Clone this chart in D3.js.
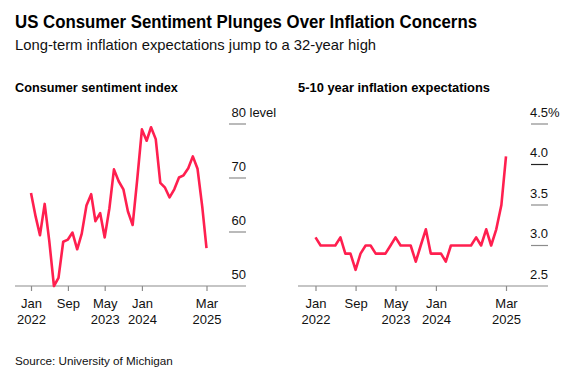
<!DOCTYPE html>
<html lang="en">
<head>
  <meta charset="UTF-8">
  <title>US Consumer Sentiment</title>
  <style>
    body { margin: 0; background: #fff; }
    svg { font-family: "Liberation Sans", Arial, sans-serif; }
    .line { fill: none; stroke: #ff1f4f; stroke-width: 2.6px; stroke-linejoin: round; }
    .grid { stroke: #8c8c8c; stroke-width: 1.2px; }
    .lbl { font-size: 13px; fill: #111; }
  </style>
  <script src="https://cdnjs.cloudflare.com/ajax/libs/d3/7.8.5/d3.min.js"></script>
</head>
<body>
  <div id="chart"></div>
  <script>
    // monthly data, Jan 2022 - Mar 2025
    var sentiment = [
      67.2, 62.8, 59.4, 65.2, 58.4, 50.0, 51.5, 58.2, 58.6, 59.9, 56.8, 59.7,
      64.9, 67.0, 62.0, 63.5, 59.0, 64.4, 71.6, 69.4, 67.9, 63.8, 61.3, 69.7,
      79.0, 76.9, 79.4, 77.2, 69.1, 68.2, 66.4, 67.9, 70.1, 70.5, 71.8, 74.0,
      71.7, 64.7, 57.0
    ];
    var expectations = [
      3.1, 3.0, 3.0, 3.0, 3.0, 3.1, 2.9, 2.9, 2.7, 2.9, 3.0, 3.0,
      2.9, 2.9, 2.9, 3.0, 3.1, 3.0, 3.0, 3.0, 2.8, 3.0, 3.2, 2.9,
      2.9, 2.9, 2.8, 3.0, 3.0, 3.0, 3.0, 3.0, 3.1, 3.0, 3.2, 3.0,
      3.2, 3.5, 4.1
    ];
    var xTicks = [new Date(2022, 0, 1), new Date(2022, 8, 1), new Date(2023, 4, 1),
                  new Date(2024, 0, 1), new Date(2025, 2, 1)];
    var xTickLabels = [["Jan", "2022"], ["Sep", ""], ["May", "2023"], ["Jan", "2024"], ["Mar", "2025"]];
    var sentTicks = [50, 60, 70, 80];
    var expTicks = [2.5, 3.0, 3.5, 4.0, 4.5];

    var months = d3.range(sentiment.length).map(function(i) { return new Date(2022, i, 1); });

    var svg = d3.select("#chart").append("svg")
        .attr("width", 566)
        .attr("height", 374);

    // titles
    svg.append("text").attr("x", 15).attr("y", 28)
        .style("font-size", "18px").style("font-weight", "bold").attr("fill", "#000")
        .attr("textLength", 462).attr("lengthAdjust", "spacingAndGlyphs")
        .text("US Consumer Sentiment Plunges Over Inflation Concerns");
    svg.append("text").attr("x", 15).attr("y", 50)
        .style("font-size", "14.8px").attr("fill", "#111")
        .text("Long-term inflation expectations jump to a 32-year high");
    svg.append("text").attr("x", 15).attr("y", 365)
        .style("font-size", "11.7px").attr("fill", "#111")
        .text("Source: University of Michigan");

    function panel(opt) {
      var g = svg.append("g");
      var x = d3.scaleTime().domain([months[0], months[months.length - 1]]).range(opt.xRange);
      var y = d3.scaleLinear().domain(opt.yDomain).range([286, 124]);

      g.append("text").attr("x", opt.left).attr("y", 92)
          .style("font-size", opt.titleSize).style("font-weight", "bold").attr("fill", "#000")
          .text(opt.title);

      // y gridlines (short, on the right) + labels
      var yt = g.selectAll(".yt").data(opt.yTicks).enter().append("g")
          .attr("transform", function(d) { return "translate(0," + y(d) + ")"; });
      yt.filter(function(d) { return d !== opt.yDomain[0]; }).append("line")
          .attr("class", "grid")
          .attr("x1", opt.right - 17).attr("x2", opt.right)
          .style("stroke", function(d) { return d === opt.dark ? "#222" : null; });
      yt.append("text").attr("class", "lbl")
          .attr("x", opt.right).attr("y", -7.5)
          .attr("text-anchor", "end")
          .text(opt.fmt);
      var top = opt.yTicks[opt.yTicks.length - 1];
      g.append("text").attr("class", "lbl")
          .attr("x", opt.right + (opt.unit === "%" ? 0 : 3.5)).attr("y", y(top) - 7.5)
          .text(opt.unit);

      // baseline + x axis
      g.append("line").attr("class", "grid")
          .attr("x1", opt.left).attr("x2", opt.right)
          .attr("y1", 286).attr("y2", 286);
      var ax = g.append("g").attr("transform", "translate(0,286)")
          .call(d3.axisBottom(x).tickValues(xTicks).tickSize(5).tickFormat(""));
      ax.select(".domain").remove();
      ax.selectAll(".tick line").attr("stroke", "#8c8c8c").attr("stroke-width", 1.2);
      ax.selectAll(".tick").each(function(d, i) {
        var t = d3.select(this).append("text").attr("class", "lbl")
            .attr("text-anchor", "middle").attr("fill", "#111")
            .style("font-size", "13px");
        t.append("tspan").attr("x", 0).attr("y", 21.5).text(xTickLabels[i][0]);
        t.append("tspan").attr("x", 0).attr("y", 38).text(xTickLabels[i][1]);
      });

      var line = d3.line()
          .x(function(d, i) { return x(months[i]); })
          .y(function(d) { return y(d); });
      g.append("path").datum(opt.values).attr("class", "line").attr("d", line);
    }

    panel({
      title: "Consumer sentiment index", titleSize: "12.7px",
      values: sentiment, yDomain: [50, 80], yTicks: sentTicks,
      xRange: [31, 206.5], left: 15, right: 246,
      fmt: function(d) { return d; }, unit: "level"
    });
    panel({
      title: "5-10 year inflation expectations", titleSize: "12.9px",
      values: expectations, yDomain: [2.5, 4.5], yTicks: expTicks,
      xRange: [315.5, 506], left: 298, right: 548, dark: 4.0,
      fmt: function(d) { return d.toFixed(1); }, unit: "%"
    });
  </script>
</body>
</html>
